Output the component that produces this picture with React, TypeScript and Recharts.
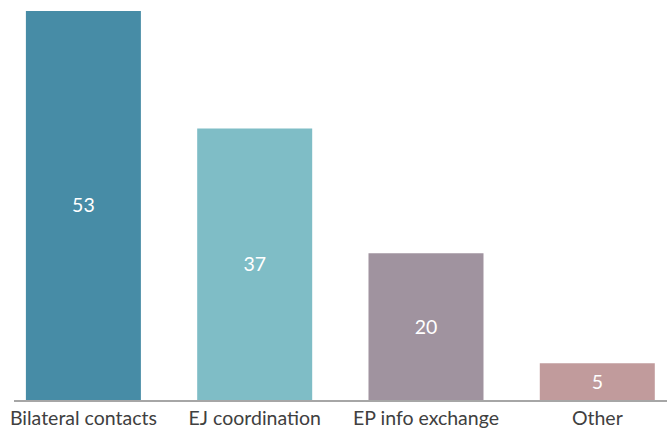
import React from "react";
import { BarChart, Bar, XAxis, YAxis, Cell, LabelList } from "recharts";

const categories = ["Bilateral contacts", "EJ coordination", "EP info exchange", "Other"];
const values = [53, 37, 20, 5];
const colors = ["#478CA6", "#7FBDC6", "#A0939F", "#C19B9C"];

const data = categories.map((name, i) => ({ name, value: values[i] }));

const FONT = "Lato, 'Open Sans', sans-serif";

export default function App() {
  return (
    <div style={{ position: "absolute", left: 0, top: 0, width: 667, height: 430, overflow: "hidden", background: "#fff" }}>
      <div style={{ position: "absolute", left: -20, top: 0 }}>
        <BarChart
          width={710}
          height={430}
          data={data}
          margin={{ top: 11, left: 17.8, right: 7, bottom: 0 }}
          barCategoryGap="16.4%"
        >
          <YAxis hide domain={[0, 53]} />
          <XAxis
            dataKey="name"
            axisLine={false}
            tickLine={false}
            tickSize={0}
            tickMargin={11}
            height={30}
            interval={0}
            tick={{ fill: "#404040", fontSize: 19.5, fontFamily: FONT }}
          />
          <Bar dataKey="value" isAnimationActive={false}>
            {data.map((d, i) => (
              <Cell key={d.name} fill={colors[i]} />
            ))}
            <LabelList
              dataKey="value"
              position="center"
              fill="#ffffff"
              style={{ fontSize: 19.5, fontFamily: FONT }}
            />
          </Bar>
        </BarChart>
      </div>
      <div
        style={{
          position: "absolute",
          left: 14,
          right: 0,
          top: 400,
          height: 2,
          background: "#A6A6A6",
        }}
      />
    </div>
  );
}
